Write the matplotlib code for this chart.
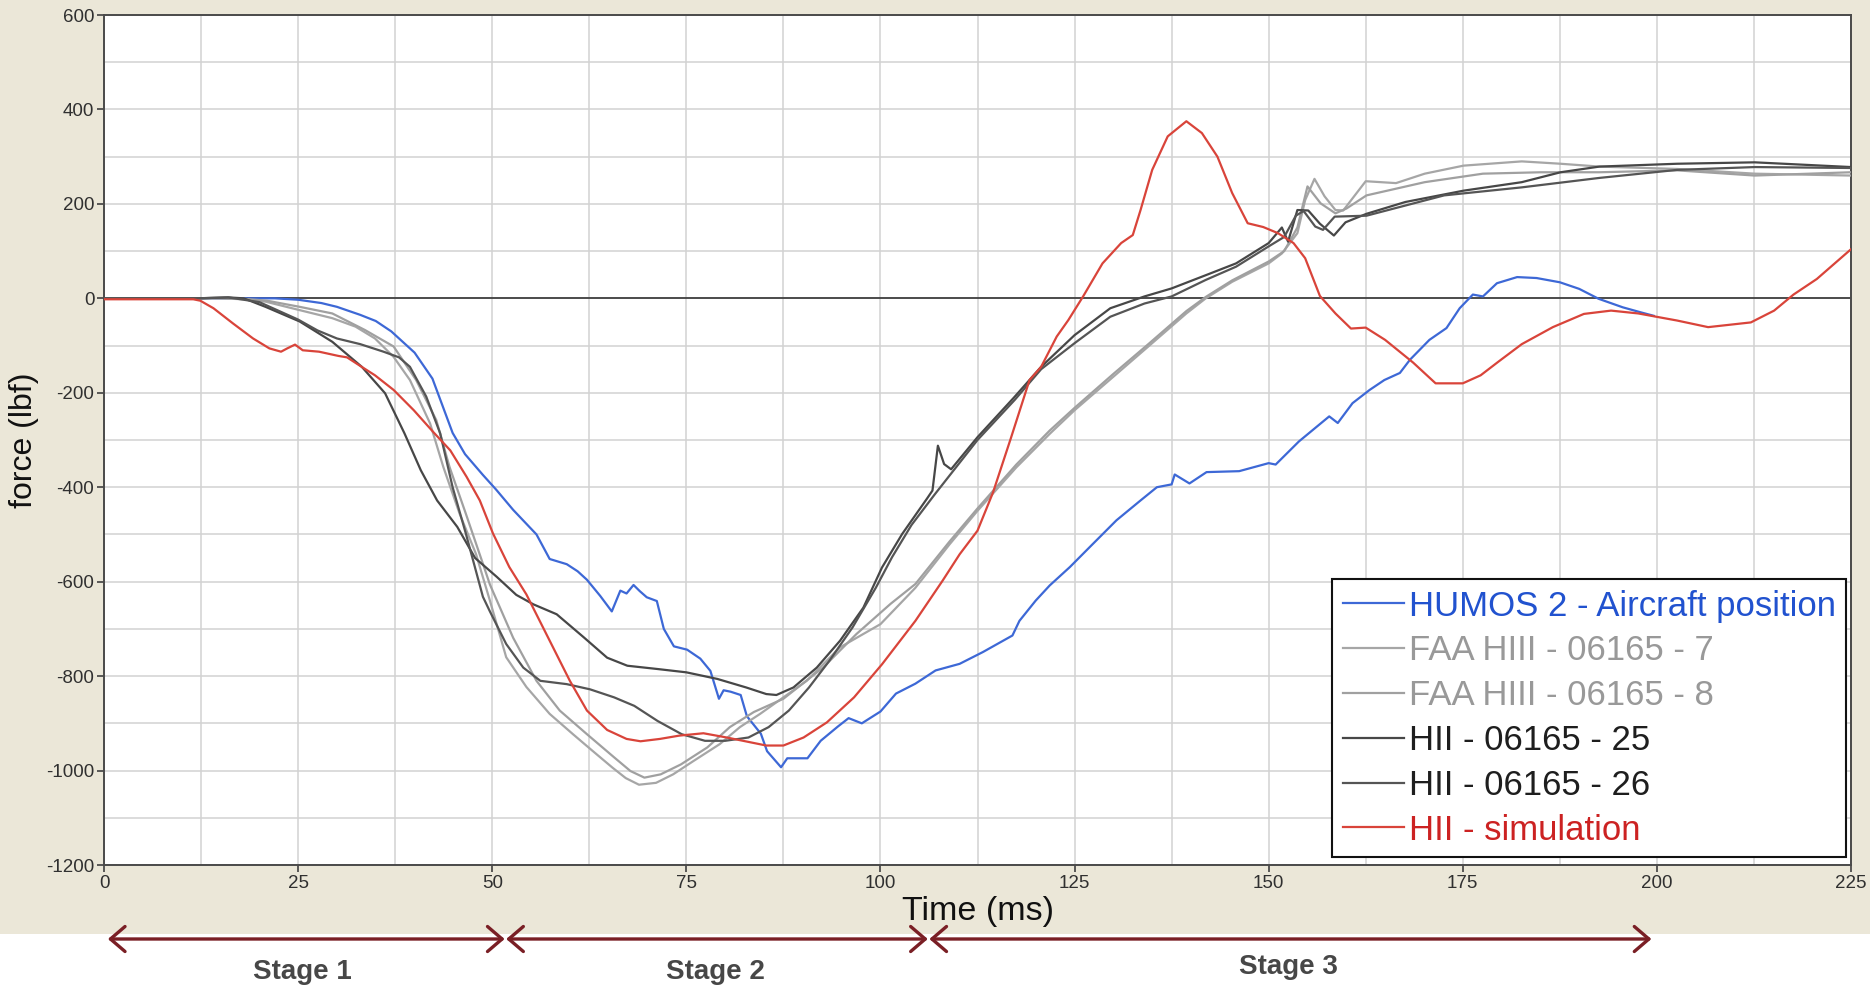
import matplotlib
matplotlib.use("Agg")
import matplotlib.pyplot as plt
from matplotlib.patches import Rectangle
from matplotlib.ticker import MultipleLocator

plt.rcParams['font.family'] = ['Liberation Sans', 'DejaVu Sans']
plt.rcParams['axes.unicode_minus'] = False

# --- test curves: time (ms) / force (lbf) ---
humos_t = [0, 10, 18, 22, 25, 28, 30, 33, 35, 37, 38, 40, 42.3, 43.5, 44.9, 46.5, 48.8, 50.5, 52.7,
           55.7, 57.4, 59.6, 61, 62.2, 63.9, 65.4, 66.5, 67.3, 68.2, 69, 69.9, 71.2, 72.1, 73.4, 75.1,
           76.8, 78.1, 79.2, 79.8, 80.7, 82, 82.8, 84.6, 85.4, 87.2, 88, 90.6, 92.3, 94.5, 95.9, 97.6,
           100, 102, 104.5, 107.1, 110.2, 113.2, 117, 117.9, 120, 121.8, 124.4, 127, 130.4, 133.5,
           135.6, 137.5, 137.9, 139.8, 142, 146.2, 150, 150.9, 153.9, 157.8, 158.9, 160.8, 163, 164.9,
           166.9, 168.2, 170.7, 172.9, 174.6, 176.3, 177.6, 179.4, 182, 184.5, 187.5, 190, 192.5,
           195.6, 198, 199.6]
humos_f = [0, 0, 0, 0, -3, -10, -18, -35, -48, -70, -85, -115, -170, -223, -285, -330, -374, -405, -448,
           -500, -552, -563, -578, -596, -630, -663, -619, -625, -607, -620, -633, -641, -700, -737, -744,
           -763, -789, -848, -830, -833, -840, -885, -922, -959, -993, -974, -974, -937, -907, -889, -900,
           -875, -837, -816, -788, -774, -749, -714, -683, -640, -608, -569, -526, -470, -428,
           -400, -394, -373, -392, -368, -366, -349, -352, -303, -250, -264, -222, -194, -173,
           -158, -130, -88, -63, -21, 8, 4, 32, 45, 43, 34, 20, -1,
           -19, -30, -37]

faa7_t = [0, 15, 18, 20.8, 25.2, 29.4, 32.4, 34.9, 37.3, 39.4, 42, 43.7, 45.8, 47.9, 49.7, 51.8, 54.4,
          57.4, 60.4, 62.9, 65.5, 67.2, 68.9, 71.1, 73.3, 75.9, 79.3, 81.9, 84.5, 87.5, 90.5, 94.8, 100,
          104.5, 108.9, 112.5, 117.5, 121.8, 125, 130, 134.5, 139.4, 141.9, 145.3, 150, 151.7, 153.7,
          154.7, 155.9, 157.2, 158.6, 159.6, 162.5, 166.4, 170.1, 175.1, 182.6, 187.6, 192.6, 202.6,
          212.6, 225]
faa7_f = [0, 0, -2, -7, -25, -42, -60, -85, -124, -173, -265, -357, -456, -541, -640, -760, -823,
          -880, -923, -958, -994, -1016, -1030, -1026, -1008, -980, -944, -908, -880, -845, -810, -739, -690,
          -613, -521, -450, -358, -287, -237, -166, -102, -32, 0, 35, 74, 95, 138,
          208, 253, 216, 187, 186, 248, 244, 264, 281, 290, 285, 279, 274,
          264, 260]

faa8_t = [0, 15, 18, 21, 25.2, 29.4, 33.6, 37.3, 40.2, 42.8, 44.5, 46.6, 48.8, 49.7, 52.7, 55.7, 58.7,
          62.2, 65.7, 67.8, 69.6, 71.7, 74.3, 77.7, 80.6, 83.7, 87.5, 92.6, 96.9, 101.3, 104.5, 108.9,
          112.5, 117.5, 121.8, 125, 130, 134.5, 139.4, 141.9, 145.3, 150, 152, 153.7, 155, 156.7, 158.6,
          160, 162.6, 170.1, 177.6, 185.1, 192.6, 202.6, 212.6, 225]
faa8_f = [0, 0, -1, -5, -18, -32, -67, -102, -173, -258, -357, -456, -562, -606, -719, -810, -873,
          -923, -972, -1001, -1015, -1008, -987, -951, -908, -876, -848, -782, -711, -647, -605, -515,
          -445, -352, -280, -232, -160, -97, -27, 3, 38, 78, 100, 150, 237, 201, 180,
          190, 218, 246, 264, 267, 267, 271, 260, 267]

hii25_t = [0, 12, 16, 18, 20.8, 25.2, 29.4, 33.2, 36.2, 38.7, 40.8, 42.9, 45.5, 47.8, 50.6, 53.1, 55.3,
           58.3, 61.8, 64.8, 67.4, 71.3, 75, 79, 82.7, 85.3, 86.6, 88.8, 91.8, 94.8, 97.8, 100.2, 102.8,
           106, 106.7, 107.4, 108.2, 109.1, 112.5, 117.2, 120.7, 125, 129.6, 134, 137.5, 141.9, 145.8,
           150, 151.7, 152.5, 153.7, 155.1, 156.6, 158.4, 159.9, 162.6, 167.6, 175.1, 182.6, 187.6,
           192.6, 202.6, 212.6, 225]
hii25_f = [0, 0, 2, 0, -18, -49, -92, -145, -201, -286, -364, -428, -484, -550, -590, -628, -648,
           -669, -718, -761, -778, -785, -792, -806, -824, -838, -840, -824, -782, -725, -655, -570, -499,
           -424, -407, -312, -351, -362, -294, -210, -145, -78, -21, 4, 21, 49, 74,
           117, 150, 120, 187, 186, 158, 133, 161, 179, 204, 228, 246, 267,
           279, 285, 288, 278]

hii26_t = [0, 12, 16, 20, 25, 27.5, 30, 33, 36, 38, 39.4, 41.5, 43.3, 44.9, 46.6, 48.8, 49.7, 51.8,
           54, 56.2, 59.6, 62.6, 65.7, 68.3, 71.3, 74.4, 77.4, 80, 83, 85.6, 88.2, 90.8, 93.4, 96.4,
           99.4, 101.5, 104, 107, 112.5, 117.3, 120.7, 125, 129.6, 134, 137.5, 141.9, 145.8, 150, 152,
           153.5, 154.5, 156, 157, 158.5, 162.6, 172.6, 182.6, 192.6, 202.6, 212.6, 225]
hii26_f = [0, 0, 2, -8, -45, -68, -85, -97, -113, -125, -145, -208, -286, -400, -498, -632, -663, -732,
           -782, -810, -817, -828, -845, -863, -895, -923, -937, -937, -930, -908, -873, -824, -768, -697,
           -613, -548, -480, -415, -300, -215, -150, -95, -39, -11, 4, 39, 67, 110, 130,
           175, 185, 152, 145, 173, 175, 218, 235, 255, 272, 278, 276]

sim_t = [0, 11.5, 12.4, 14.1, 16.6, 19.2, 21.3, 22.8, 23.6, 24.6, 25.6, 27.7, 30.2, 31.3, 32.8, 34.9,
         37.3, 39.9, 42.4, 44.6, 46.7, 48.4, 50.1, 52.2, 54.4, 57.4, 60, 62.2, 64.8, 67.3, 69.1, 71.6,
         74.1, 77.2, 80.2, 83.2, 85.3, 87.5, 90.1, 93.1, 96.6, 100.2, 104.5, 108, 110.2, 112.5, 114.5,
         116.8, 119.2, 120.7, 122.7, 124.2, 126.1, 128.6, 131, 132.5, 133.5, 135, 137, 139.4, 141.4,
         143.4, 145.3, 147.3, 149.3, 151.2, 153.2, 154.7, 156.6, 158.6, 160.6, 162.5, 165, 168.6,
         171.5, 175, 177.3, 179.6, 182.6, 186.6, 190.6, 194.1, 197.6, 202.6, 206.6, 212.1, 215.1,
         217.6, 220.6, 225]
sim_f = [-2, -2, -5, -21, -53, -85, -106, -113, -106, -98, -110, -113, -122, -125, -141, -163,
         -194, -237, -283, -322, -378, -428, -498, -569, -627, -725, -810, -873, -914, -933, -938, -933,
         -926, -921, -930, -940, -947, -947, -930, -898, -845, -775, -683, -598, -542, -492, -411,
         -296, -173, -145, -81, -46, 4, 74, 117, 134, 187, 272, 343, 375, 350,
         300, 223, 159, 151, 138, 117, 85, 5, -32, -64, -62, -88, -136,
         -180, -180, -163, -134, -97, -61, -33, -26, -32, -47, -61, -51, -26,
         8, 41, 104]

series = [
    ("HUMOS 2 - Aircraft position", humos_t, humos_f, "#3D68D6", "#2152CF"),
    ("FAA HIII - 06165 - 7", faa7_t, faa7_f, "#A6A6A6", "#999999"),
    ("FAA HIII - 06165 - 8", faa8_t, faa8_f, "#A0A0A0", "#999999"),
    ("HII - 06165 - 25", hii25_t, hii25_f, "#474747", "#1E1E1E"),
    ("HII - 06165 - 26", hii26_t, hii26_f, "#555555", "#1E1E1E"),
    ("HII - simulation", sim_t, sim_f, "#D9443A", "#CC2222"),
]

# phases of the impact (ms)
stage_names = ["Stage 1", "Stage 2", "Stage 3"]
stage_start = [0.5, 51.8, 106.3]
stage_end = [51.6, 106.1, 199.3]
stage_label_t = [25.5, 78.8, 152.5]

beige = "#EBE7D8"
fig = plt.figure(figsize=(18.7, 9.88), dpi=100, facecolor=beige)
fig.patches.append(Rectangle((0, 0), 1, 54 / 988, transform=fig.transFigure,
                             facecolor="white", edgecolor="none", zorder=-1))

ax = fig.add_axes([104 / 1870, 1 - 865 / 988, 1747 / 1870, 850 / 988])
ax.set_zorder(1)
ax.set_facecolor("white")

for label, t, f, c, _ in series:
    ax.plot(t, f, color=c, lw=1.6, label=label, zorder=3)

ax.axhline(0, color="#333333", lw=1.2, zorder=2)

ax.set_xlim(0, 225)
ax.set_ylim(-1200, 600)
ax.xaxis.set_major_locator(MultipleLocator(25))
ax.xaxis.set_minor_locator(MultipleLocator(12.5))
ax.yaxis.set_major_locator(MultipleLocator(200))
ax.yaxis.set_minor_locator(MultipleLocator(100))
ax.grid(True, which="both", color="#D2D2D2", lw=1.1, zorder=0)
ax.tick_params(which="minor", length=0)
ax.tick_params(which="major", length=5, width=1.2, color="#404040",
               labelsize=13.5, labelcolor="#303030", pad=2)
for s in ax.spines.values():
    s.set_color("#4A4A4A")
    s.set_linewidth(1.4)

ax.set_xlabel("Time (ms)", fontsize=24.5, color="#111111", labelpad=3)
ax.set_ylabel("force (lbf)", fontsize=23, color="#111111", labelpad=5)

leg = ax.legend(loc="lower right", bbox_to_anchor=(0.9973, 0.0094), borderaxespad=0,
                fontsize=25, frameon=True, fancybox=False, framealpha=1,
                edgecolor="#111111", handlelength=1.75, handletextpad=0.15,
                labelspacing=0.34, borderpad=0.3)
leg.get_frame().set_linewidth(1.5)
for txt, s in zip(leg.get_texts(), series):
    txt.set_color(s[4])

# stage arrows under the time axis
trans = ax.get_xaxis_transform()
arrow_y = (865 - 939) / 850
for a, b in zip(stage_start, stage_end):
    ax.annotate("", xy=(b, arrow_y), xytext=(a, arrow_y), xycoords=trans, textcoords=trans,
                annotation_clip=False,
                arrowprops=dict(arrowstyle="<->,head_length=0.35,head_width=0.3",
                                color="#7A1F25", lw=2.4, shrinkA=0, shrinkB=0,
                                mutation_scale=30))
stage_label_y = [(865 - 972) / 850, (865 - 972) / 850, (865 - 967) / 850]
for name, x, y in zip(stage_names, stage_label_t, stage_label_y):
    ax.text(x, y, name, transform=trans, ha="center", va="center",
            fontsize=20, fontweight="bold", color="#474747")

fig.savefig("out.png", dpi=100, facecolor=beige)
